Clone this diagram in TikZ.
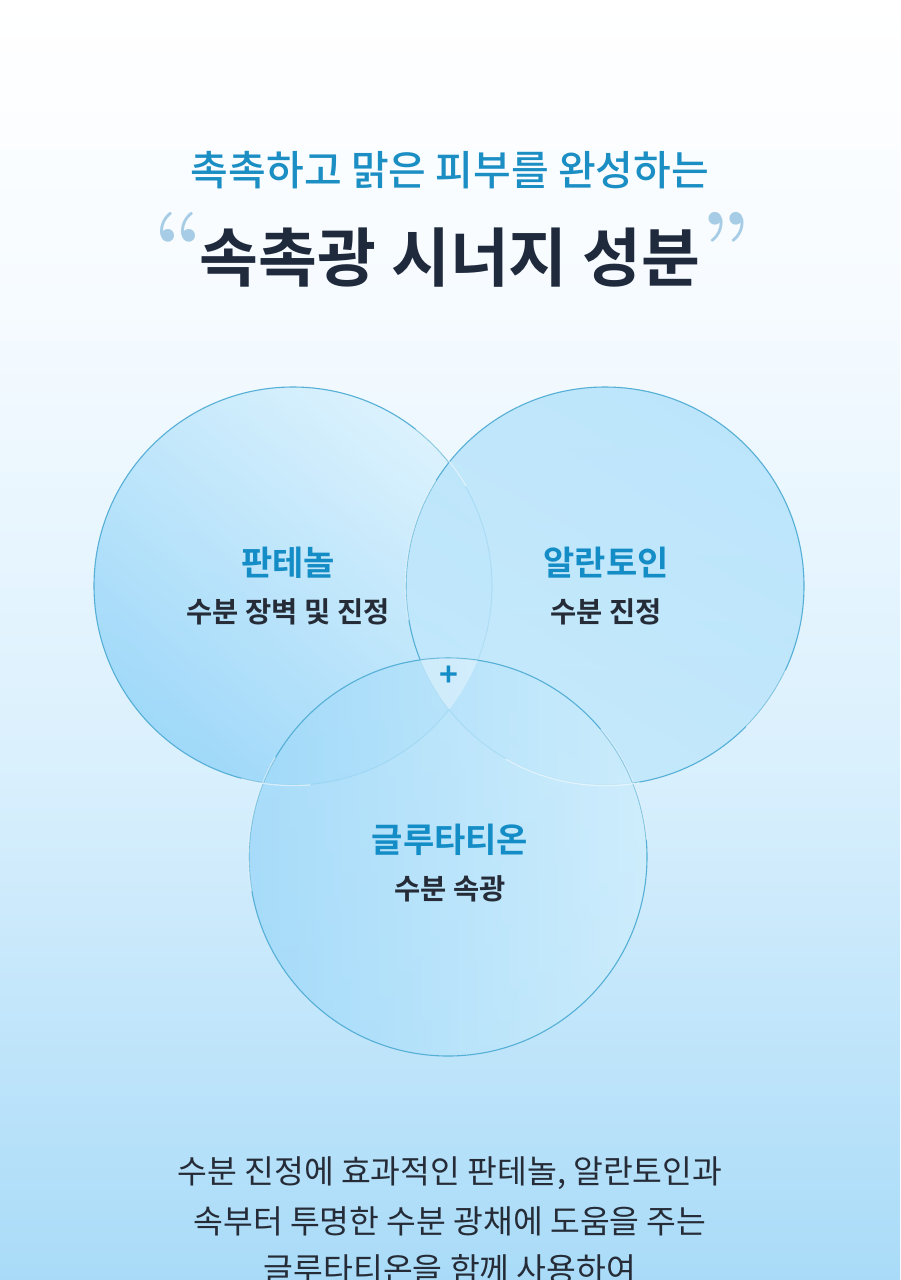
\documentclass[tikz,border=0pt]{standalone}
\usepackage{fontspec}
\usepackage{xcolor}
\newfontfamily\kr{Noto Sans CJK KR}
\newfontfamily\krb{Noto Sans CJK KR Bold}
\newfontfamily\krm{Noto Sans CJK KR Medium}
\definecolor{titleblue}{HTML}{1B8EC3}
\definecolor{navy}{HTML}{1F2A3D}
\definecolor{quoteblue}{HTML}{A6CDE5}
\definecolor{labelblue}{HTML}{148DC6}
\definecolor{bodytext}{HTML}{262C37}
\definecolor{ring}{HTML}{55AFD6}
\definecolor{bgtop}{HTML}{F6FBFF}
\definecolor{bgmid}{HTML}{DAF0FD}
\definecolor{bgbot}{HTML}{A9DBF8}
\definecolor{panlight}{HTML}{D8F1FD}
\definecolor{pandark}{HTML}{96D5F9}
\definecolor{alltop}{HTML}{B4E2FB}
\definecolor{allbot}{HTML}{C2E8FB}
\definecolor{gluleft}{HTML}{A0D9F9}
\definecolor{gluright}{HTML}{CDEDFC}

\begin{document}
\begin{tikzpicture}[x=1pt,y=-1pt]
\tikzset{
  bubble/.style={circle, minimum size=398pt, inner sep=0pt, draw=ring, line width=1.1pt, fill opacity=0.85},
  glint/.style={white, line width=1.3pt, opacity=0.55},
  inci/.style={font=\krb\fontsize{34}{40}\selectfont, text=labelblue},
  rolelabel/.style={font=\krb\fontsize{28.5}{34}\selectfont, text=bodytext},
  copytext/.style={font=\kr\fontsize{32.4}{38}\selectfont, text=bodytext}
}
\useasboundingbox (0,0) rectangle (900,1280);
% background
\shade[top color=white, bottom color=bgtop] (0,0) rectangle (900,300);
\shade[top color=bgtop, bottom color=bgmid] (0,300) rectangle (900,760);
\shade[top color=bgmid, bottom color=bgbot] (0,760) rectangle (900,1280);

% headline
\node[font=\krm\fontsize{41}{48}\selectfont, text=titleblue] (sub) at (450,170) {촉촉하고 맑은 피부를 완성하는};
\node[font=\krb\fontsize{64}{74}\selectfont, text=navy] (head) at (450,258) {속촉광 시너지 성분};
\node[font=\fontsize{88}{88}\selectfont\bfseries, text=quoteblue] (lq) at (179,243) {``};
\node[font=\fontsize{88}{88}\selectfont\bfseries, text=quoteblue] (rq) at (726,243) {''};

% circles
\node[bubble, top color=panlight, bottom color=pandark, shading angle=-40] (pan) at (293,586) {};
\node[bubble, top color=alltop, bottom color=allbot, shading angle=-30] (all) at (605,586) {};
\node[bubble, left color=gluleft, right color=gluright] (glu) at (448,857) {};

% lighter middle where all three meet
\begin{scope}
\clip (pan.center) circle (199);
\clip (all.center) circle (199);
\clip (glu.center) circle (199);
\fill[white, opacity=0.35] (glu.north) ++(-60,-40) rectangle ++(120,100);
\end{scope}

% highlights (angles negated because y points down)
\draw[glint] (pan.30) arc (-30:-52:199);
\draw[glint] (pan.-85) arc (85:105:199);
\draw[glint] (all.148) arc (-148:-190:199);
\draw[glint] (all.-25) arc (25:45:199);
\draw[glint] (all.-80) arc (80:120:199);
\draw[glint] (glu.150) arc (-150:-190:199);
\draw[glint] (glu.5) arc (-5:-40:199);

% labels
\node[inci] (panname) at (288,563) {판테놀};
\node[rolelabel] (panrole) at (288,612) {수분 장벽 및 진정};
\node[inci] (allname) at (606,563) {알란토인};
\node[rolelabel] (allrole) at (606,612) {수분 진정};
\node[inci] (gluname) at (450,840) {글루타티온};
\node[rolelabel] (glurole) at (450,889) {수분 속광};
\node[font=\krb\fontsize{32}{32}\selectfont, text=labelblue] (plus) at (449,676) {+};

% bottom copy
\node[copytext] (line1) at (450,1173) {수분 진정에 효과적인 판테놀, 알란토인과};
\node[copytext] (line2) at (450,1221) {속부터 투명한 수분 광채에 도움을 주는};
\node[copytext] (line3) at (450,1269) {글루타티온을 함께 사용하여};
\end{tikzpicture}
\end{document}
